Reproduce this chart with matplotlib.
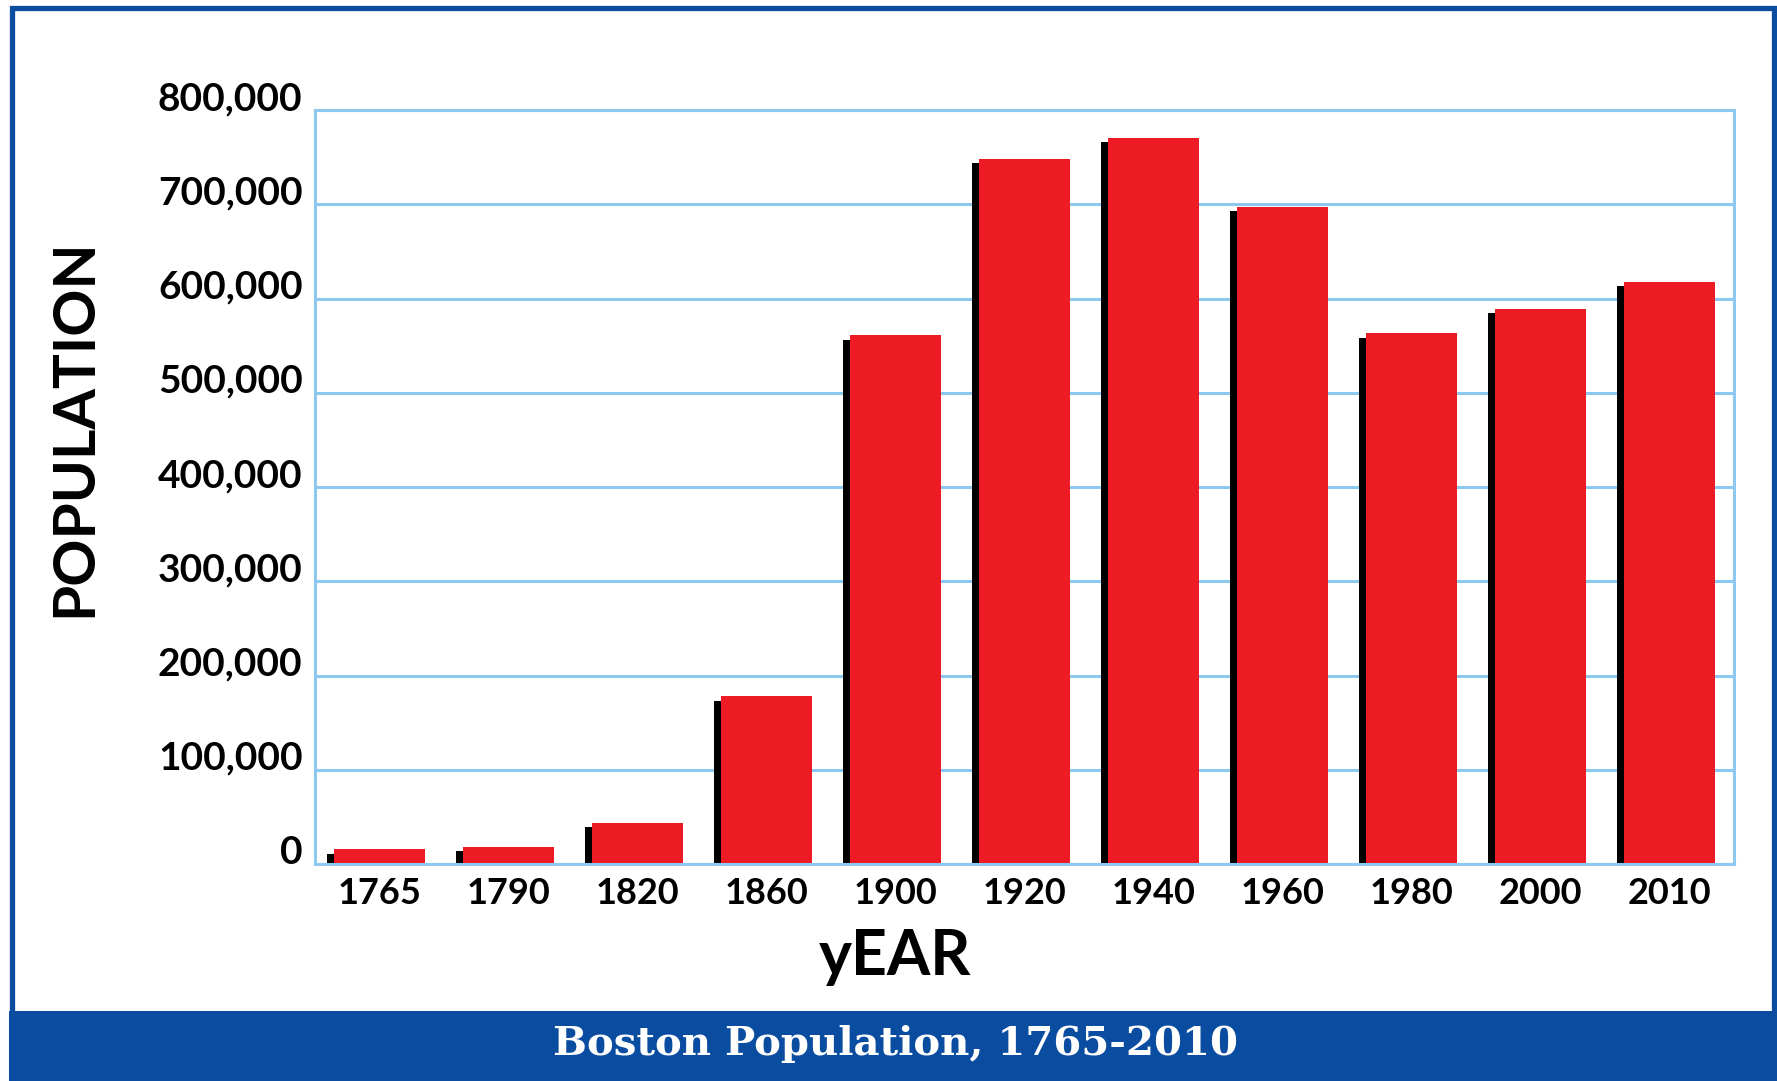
#### #### #### #### #### #### #### #### #### #### #### #### #### #### #### #### #### #### #### ####
### Import functions

import numpy as np
import matplotlib
matplotlib.use('Agg')
import matplotlib.pyplot as plt
from matplotlib.patches import Rectangle


#### #### #### #### #### #### #### #### #### #### #### #### #### #### #### #### #### #### #### ####
#### DATA

years = ['1765', '1790', '1820', '1860', '1900', '1920', '1940', '1960', '1980', '2000', '2010']
population = [15520, 18320, 43298, 177840, 560892, 748060, 770816, 697197, 562994, 589141, 617594]

yticks = [0, 100000, 200000, 300000, 400000, 500000, 600000, 700000, 800000]
ytick_labels = ['0', '100,000', '200,000', '300,000', '400,000', '500,000', '600,000', '700,000', '800,000']


#### #### #### #### #### #### #### #### #### #### #### #### #### #### #### #### #### #### #### ####
#### STYLE

red = '#ED1C24'
dark_blue = '#0A4CA0'
grid_blue = '#8DC8EE'

bar_width = 0.71
shadow_dx = 0.054	# shadow shift, in slots
shadow_dy = 4500	# shadow drop, in people

sans = ['Lato', 'DejaVu Sans']


#### #### #### #### #### #### #### #### #### #### #### #### #### #### #### #### #### #### #### ####
#### PLOT

fg = plt.figure(figsize=(17.77, 10.81), dpi=100)
ax = fg.add_axes([0.1773, 0.2007, 0.7985, 0.6975])

x = np.arange(len(years))
values = np.array(population)

ax.set_axisbelow(True)
ax.yaxis.grid(True, color=grid_blue, linewidth=2.2)
ax.xaxis.grid(False)

# black shadow behind each bar
ax.bar(x - shadow_dx, np.maximum(values - shadow_dy, 0), width=bar_width, color='k', zorder=2)
ax.bar(x, values, width=bar_width, color=red, zorder=3)

for side in ['left', 'right', 'top', 'bottom']:
	ax.spines[side].set_color(grid_blue)
	ax.spines[side].set_linewidth(2.2)
	ax.spines[side].set_zorder(4)

ax.set_xlim(-0.5, len(years) - 0.5)
ax.set_ylim(0, 800000)

ax.set_xticks(x)
ax.set_xticklabels(years, family=sans, fontsize=26, fontweight='bold')
ax.set_yticks(yticks)
ax.set_yticklabels(ytick_labels, family=sans, fontsize=28, fontweight='bold')
for lab in ax.get_yticklabels():
	lab.set_va('baseline')

ax.tick_params(axis='both', length=0)
ax.tick_params(axis='x', pad=9)
ax.tick_params(axis='y', pad=9)

# axis titles, placed as on the poster
fg.text(0.042, 0.604, 'POPULATION', rotation=90, ha='center', va='center',
	family=sans, fontsize=42, fontweight='bold')
fg.text(0.5037, 0.098, 'yEAR', ha='center', va='baseline',
	family=sans, fontsize=45, fontweight='bold')

# frame and banner
fg.patches.append(Rectangle((0.007, 0.03), 0.9915, 0.9626, transform=fg.transFigure,
	fill=False, edgecolor=dark_blue, linewidth=3.8, zorder=0))
fg.patches.append(Rectangle((0.005, 0.0), 0.995, 0.0648, transform=fg.transFigure,
	facecolor=dark_blue, edgecolor='none', zorder=1))

fg.text(0.5037, 0.034, 'Boston Population, 1765-2010', ha='center', va='center',
	color='white', family=['DejaVu Serif'], fontsize=29, fontweight='bold')

plt.savefig('out.png', dpi=100)
